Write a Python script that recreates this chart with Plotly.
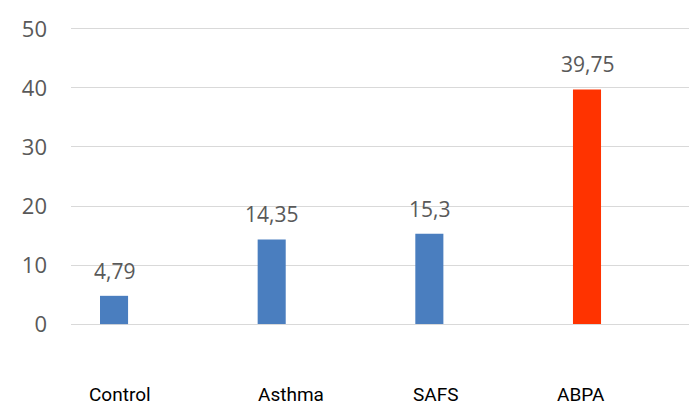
import plotly.graph_objects as go

# Group names and mean values shown above each bar
groups = ["Control", "Asthma", "SAFS", "ABPA"]
values = [4.79, 14.35, 15.3, 39.75]
bar_colors = ["#4a7ebf", "#4a7ebf", "#4a7ebf", "#ff3300"]
y_ticks = [0, 10, 20, 30, 40, 50]

# Horizontal nudge of each group name relative to its bar (category units)
label_nudge = [0.035, 0.12, 0.04, -0.04]

xpos = list(range(len(groups)))

fig = go.Figure()
fig.add_trace(go.Bar(
    x=xpos,
    y=values,
    width=0.178,
    marker=dict(color=bar_colors, line=dict(width=0)),
    hoverinfo="skip",
))

# Value labels above bars, written with a decimal comma
for xi, v in zip(xpos, values):
    fig.add_annotation(
        x=xi, y=v, xref="x", yref="y",
        text=f"{v:g}".replace(".", ","),
        showarrow=False, yanchor="middle", yshift=25,
        font=dict(family="Open Sans", size=21, color="#595959"),
    )

# Group names under the chart
for xi, name, dx in zip(xpos, groups, label_nudge):
    fig.add_annotation(
        x=xi + dx, y=0, xref="x", yref="paper",
        text=name, showarrow=False, yanchor="top", yshift=-52,
        borderpad=0,
        font=dict(family="Roboto", size=19, color="#000000"),
    )

fig.update_layout(
    width=689, height=407,
    margin=dict(l=71, r=0, t=23, b=77),
    paper_bgcolor="white", plot_bgcolor="white",
    showlegend=False,
    xaxis=dict(
        range=[-0.273, 3.647], showticklabels=False, showgrid=False,
        zeroline=False, showline=False, ticks="",
    ),
    yaxis=dict(
        range=[-1, 51], tickvals=y_ticks, showgrid=True,
        gridcolor="#d9d9d9", gridwidth=1, zeroline=False, showline=False,
        ticks="", ticklabelstandoff=23,
        tickfont=dict(family="Open Sans", size=22, color="#595959"),
    ),
)

fig.write_html("out.html")
